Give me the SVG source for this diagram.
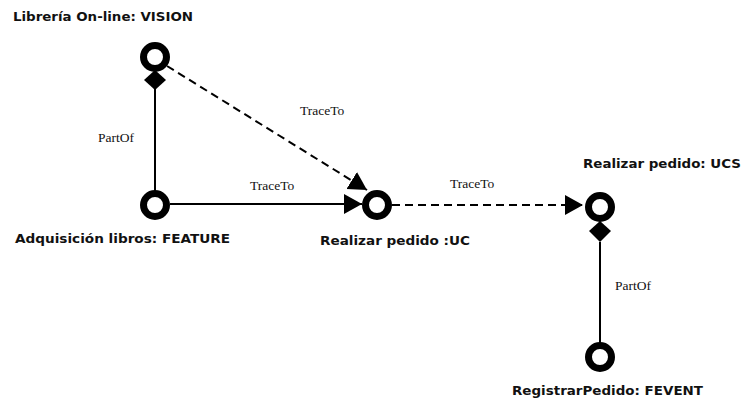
<svg xmlns="http://www.w3.org/2000/svg" width="741" height="401" viewBox="0 0 741 401">
<defs>
<style>
.node{fill:none;stroke:#000;stroke-width:7}
.lbl{font-family:"DejaVu Sans Condensed","DejaVu Sans","Liberation Sans",sans-serif;font-stretch:condensed;font-weight:bold;font-size:12.5px;fill:#111}
.elbl{font-family:"Liberation Serif","Times New Roman",serif;font-size:13.5px;fill:#111}
.conn{fill:none;stroke:#000;stroke-width:2}
.dash{stroke-dasharray:8,5}
.dia{fill:#000}
</style>
<marker id="arr" markerUnits="userSpaceOnUse" markerWidth="20" markerHeight="22" refX="18" refY="10" orient="auto">
<path d="M0,0 L18,10 L0,20 Z" fill="#000"/>
</marker>
</defs>
<rect width="741" height="401" fill="#fff"/>
<g id="connectors">
<path class="conn" d="M155,89 L155,191"/>
<path class="conn" d="M170,204 L362,204" marker-end="url(#arr)"/>
<path class="conn dash" d="M167,66 L367,190" marker-end="url(#arr)"/>
<path class="conn dash" d="M392,205 L583,205" marker-end="url(#arr)"/>
<path class="conn" d="M600,242 L600,343"/>
<polygon class="dia" points="155,70 166,80 155,90 144,80"/>
<polygon class="dia" points="600,221 611,231 600,242 589,231"/>
<text class="elbl" x="98" y="142">PartOf</text>
<text class="elbl" x="250" y="190">TraceTo</text>
<text class="elbl" x="300" y="115">TraceTo</text>
<text class="elbl" x="450" y="188">TraceTo</text>
<text class="elbl" x="615" y="290">PartOf</text>
</g>
<g id="vision">
<circle class="node" cx="155" cy="57" r="11.5"/>
<text class="lbl" x="13" y="21" textLength="180" lengthAdjust="spacingAndGlyphs">Librería On-line: VISION</text>
</g>
<g id="feature">
<circle class="node" cx="155" cy="205" r="11.5"/>
<text class="lbl" x="15" y="243" textLength="215" lengthAdjust="spacingAndGlyphs">Adquisición libros: FEATURE</text>
</g>
<g id="uc">
<circle class="node" cx="377" cy="205" r="11.5"/>
<text class="lbl" x="320" y="245" textLength="150" lengthAdjust="spacingAndGlyphs">Realizar pedido :UC</text>
</g>
<g id="ucs">
<circle class="node" cx="600" cy="207" r="11.5"/>
<text class="lbl" x="583" y="168" textLength="158" lengthAdjust="spacingAndGlyphs">Realizar pedido: UCS</text>
</g>
<g id="fevent">
<circle class="node" cx="600" cy="357" r="11.5"/>
<text class="lbl" x="512" y="395" textLength="191" lengthAdjust="spacingAndGlyphs">RegistrarPedido: FEVENT</text>
</g>
</svg>
